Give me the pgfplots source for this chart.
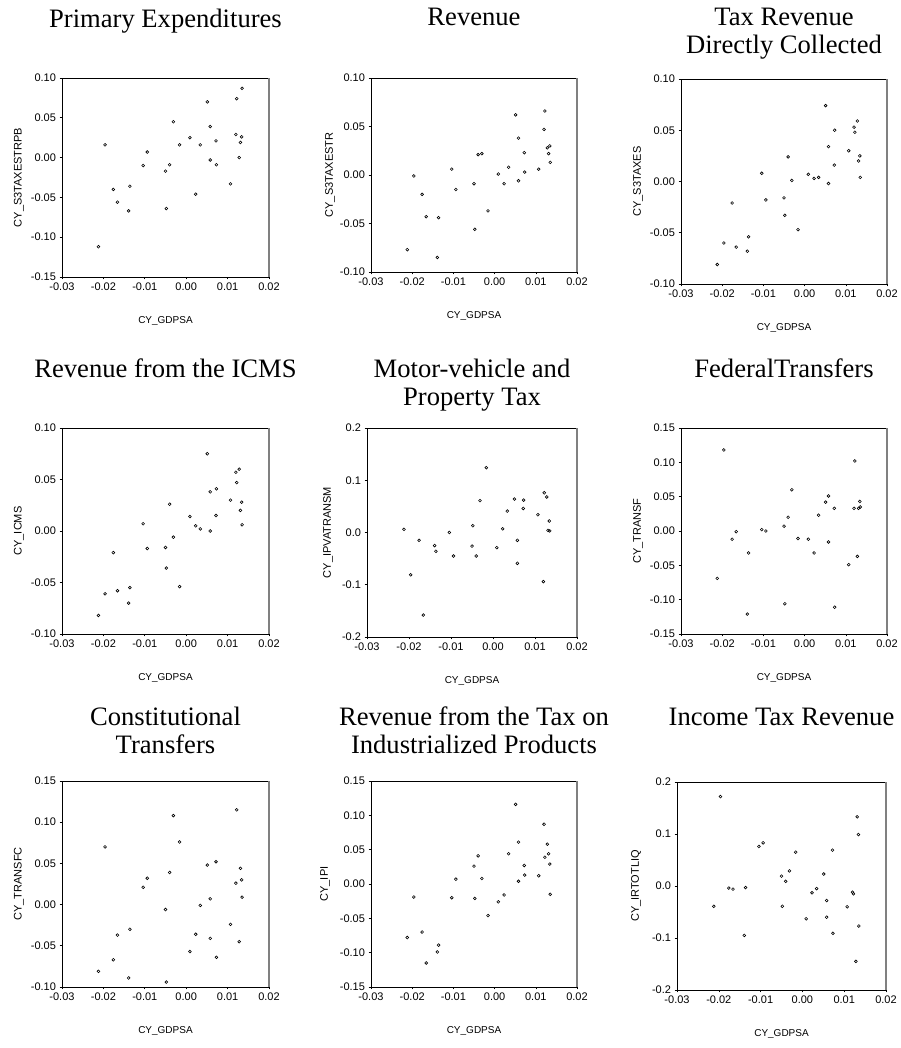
\documentclass[border=0pt]{standalone}
\usepackage{fontspec}
\setmainfont{Liberation Serif}
\newfontfamily\arial{Liberation Sans}
\usepackage{pgfplots}
\usepackage{pgfplotstable}
\pgfplotsset{compat=1.18}

% x = CY_GDPSA, p1..p9 = the nine cyclical components
\pgfplotstableread{
x p1 p2 p3 p4 p5 p6 p7 p8 p9
-0.0212 -0.112 -0.077 -0.081 -0.082 0.006 -0.069 -0.081 -0.078 -0.039
-0.0196 0.016 -0.001 -0.060 -0.061 -0.081 0.118 0.070 -0.019 0.172
-0.0176 -0.040 -0.020 -0.021 -0.021 -0.015 -0.012 -0.067 -0.070 -0.004
-0.0166 -0.056 -0.043 -0.064 -0.058 -0.158 -0.001 -0.037 -0.115 -0.006
-0.0139 -0.067 -0.085 -0.068 -0.070 -0.025 -0.121 -0.089 -0.099 -0.095
-0.0136 -0.036 -0.044 -0.054 -0.055 -0.036 -0.032 -0.030 -0.089 -0.003
-0.0104 -0.010 0.006 0.008 0.007 0.000 0.002 0.021 -0.020 0.076
-0.0094 0.007 -0.015 -0.018 -0.017 -0.045 0.000 0.032 0.007 0.083
-0.0050 -0.017 -0.009 -0.016 -0.016 -0.026 0.007 -0.006 0.026 0.019
-0.0048 -0.064 -0.056 -0.033 -0.036 0.013 -0.106 -0.094 -0.021 -0.039
-0.0040 -0.009 0.021 0.024 0.026 -0.045 0.020 0.039 0.041 0.009
-0.0031 0.045 0.022 0.001 -0.006 0.061 0.060 0.108 0.008 0.029
-0.0016 0.016 -0.037 -0.047 -0.054 0.124 -0.011 0.076 -0.046 0.065
0.0009 0.025 0.001 0.007 0.014 -0.029 -0.012 -0.057 -0.026 -0.063
0.0023 -0.046 -0.009 0.003 0.005 0.007 -0.032 -0.036 -0.016 -0.013
0.0034 0.016 0.008 0.004 0.002 0.041 0.023 -0.001 0.044 -0.005
0.0051 0.070 0.062 0.074 0.075 0.064 0.042 0.048 0.116 0.023
0.0058 0.039 0.038 0.034 0.038 -0.015 0.051 0.007 0.061 -0.028
0.0058 -0.003 -0.006 -0.002 0.000 -0.059 -0.016 -0.041 0.004 -0.060
0.0072 0.021 0.023 0.016 0.015 0.046 0.033 0.052 0.027 0.069
0.0073 -0.009 0.003 0.050 0.041 0.062 -0.111 -0.064 0.013 -0.091
0.0107 -0.033 0.006 0.030 0.030 0.034 -0.049 -0.024 0.012 -0.040
0.0120 0.029 0.047 0.053 0.057 -0.094 0.033 0.026 0.087 -0.012
0.0122 0.074 0.066 0.048 0.047 0.076 0.102 0.115 0.039 -0.015
0.0128 0.000 0.028 0.059 0.060 0.068 -0.037 -0.045 0.058 -0.145
0.0131 0.019 0.022 0.020 0.020 0.004 0.033 0.044 0.044 0.133
0.0134 0.026 0.030 0.025 0.028 0.022 0.043 0.030 0.029 0.099
0.0135 0.087 0.013 0.004 0.006 0.003 0.035 0.009 -0.015 -0.077
}\data

\pgfplotsset{
  ev/.style={
    scale only axis,
    anchor=south west,
    xmin=-0.03, xmax=0.02,
    xtick={-0.03,-0.02,-0.01,0,0.01,0.02},
    scaled ticks=false,
    tick align=outside,
    xtick pos=bottom, ytick pos=left,
    major tick length=2.5pt,
    tick style={black, line width=0.6pt},
    axis line style={line width=0.7pt},
    /pgf/number format/assume math mode=true,
    ticklabel style={font=\arial\fontsize{11}{11}\selectfont},
    xticklabel style={/pgf/number format/.cd, fixed, fixed zerofill, precision=2},
    xlabel={CY\_GDPSA},
    every axis x label/.style={at={([yshift=-44pt]axis description cs:0.5,0)}, anchor=center,
      font=\arial\fontsize{10}{10}\selectfont},
    every axis y label/.style={at={([xshift=-43pt]axis description cs:0,0.5)}, anchor=center,
      rotate=90, font=\arial\fontsize{11}{11}\selectfont},
    title style={at={([yshift=63pt]axis description cs:0.5,1)}, anchor=north, inner sep=0pt,
      align=center, font=\fontsize{26.6}{28}\selectfont},
    extra description/.code={\draw[gray, line width=1.2pt] (1,0) -- (1,1);},
  },
  pt/.style={only marks, mark=o, mark size=1.4pt, black, mark options={line width=0.6pt}},
  y2/.style={yticklabel style={/pgf/number format/.cd, fixed, fixed zerofill, precision=2}},
  y1/.style={yticklabel style={/pgf/number format/.cd, fixed, fixed zerofill, precision=1}},
  row3/.style={title style={yshift=5pt}},
}

\begin{document}
\begin{tikzpicture}
\path[use as bounding box] (0pt,0pt) rectangle (900pt,1048pt);

% row 1
\begin{axis}[ev, y2, at={(62pt,771pt)}, width=207pt, height=199pt,
  ymin=-0.15, ymax=0.10, ytick={-0.15,-0.10,-0.05,0,0.05,0.10},
  title={Primary Expenditures}, ylabel={CY\_S3TAXESTRPB}]
  \addplot[pt] table[x=x, y=p1] {\data};
\end{axis}
\begin{axis}[ev, y2, at={(371pt,776pt)}, width=206pt, height=194pt,
  ymin=-0.10, ymax=0.10, ytick={-0.10,-0.05,0,0.05,0.10},
  title style={yshift=1pt},
  title={Revenue}, ylabel={CY\_S3TAXESTR},
  every axis y label/.append style={at={([xshift=-41pt]axis description cs:0,0.5)}}]
  \addplot[pt] table[x=x, y=p2] {\data};
\end{axis}
\begin{axis}[ev, y2, at={(681pt,764pt)}, width=206pt, height=205pt,
  ymin=-0.10, ymax=0.10, ytick={-0.10,-0.05,0,0.05,0.10},
  title style={yshift=2pt},
  title={Tax Revenue\\Directly Collected}, ylabel={CY\_S3TAXES}]
  \addplot[pt] table[x=x, y=p3] {\data};
\end{axis}

% row 2
\begin{axis}[ev, y2, at={(62pt,414pt)}, width=207pt, height=206pt,
  ymin=-0.10, ymax=0.10, ytick={-0.10,-0.05,0,0.05,0.10},
  title={Revenue from the ICMS}, ylabel={CY\_ICMS}]
  \addplot[pt] table[x=x, y=p4] {\data};
\end{axis}
\begin{axis}[ev, y1, at={(367pt,411pt)}, width=210pt, height=209pt,
  ymin=-0.2, ymax=0.2, ytick={-0.2,-0.1,0,0.1,0.2},
  title={Motor-vehicle and\\Property Tax}, ylabel={CY\_IPVATRANSM},
  every axis y label/.append style={at={([xshift=-39pt]axis description cs:0,0.5)}}]
  \addplot[pt] table[x=x, y=p5] {\data};
\end{axis}
\begin{axis}[ev, y2, at={(681pt,414pt)}, width=206pt, height=206pt,
  ymin=-0.15, ymax=0.15, ytick={-0.15,-0.10,-0.05,0,0.05,0.10,0.15},
  title={FederalTransfers}, ylabel={CY\_TRANSF}]
  \addplot[pt] table[x=x, y=p6] {\data};
\end{axis}

% row 3
\begin{axis}[ev, y2, row3, at={(62pt,61pt)}, width=207pt, height=206pt,
  ymin=-0.10, ymax=0.15, ytick={-0.10,-0.05,0,0.05,0.10,0.15},
  title={Constitutional\\Transfers}, ylabel={CY\_TRANSFC}]
  \addplot[pt] table[x=x, y=p7] {\data};
\end{axis}
\begin{axis}[ev, y2, row3, at={(371pt,61pt)}, width=206pt, height=206pt,
  ymin=-0.15, ymax=0.15, ytick={-0.15,-0.10,-0.05,0,0.05,0.10,0.15},
  title={Revenue from the Tax on\\Industrialized Products}, ylabel={CY\_IPI},
  every axis y label/.append style={at={([xshift=-46pt]axis description cs:0,0.5)}}]
  \addplot[pt] table[x=x, y=p8] {\data};
\end{axis}
\begin{axis}[ev, y1, row3, at={(677pt,58pt)}, width=209pt, height=208pt,
  ymin=-0.2, ymax=0.2, ytick={-0.2,-0.1,0,0.1,0.2},
  title={Income Tax Revenue}, ylabel={CY\_IRTOTLIQ},
  every axis y label/.append style={at={([xshift=-41pt]axis description cs:0,0.5)}}]
  \addplot[pt] table[x=x, y=p9] {\data};
\end{axis}
\end{tikzpicture}
\end{document}
